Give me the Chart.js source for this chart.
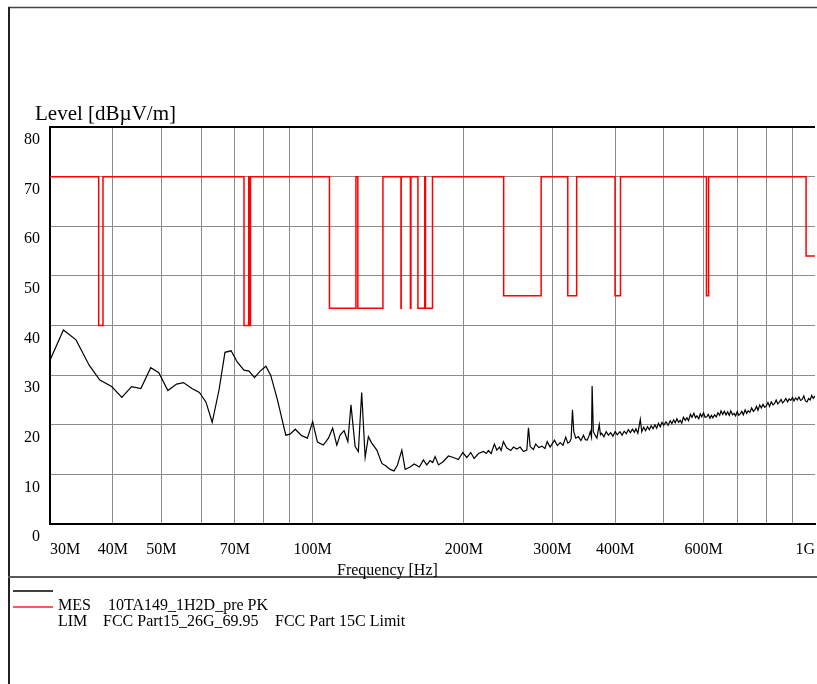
<!DOCTYPE html>
<html>
<head>
<meta charset="utf-8">
<script src="https://cdn.jsdelivr.net/npm/chart.js@4"></script>
<style>
  html, body { margin: 0; padding: 0; background: #fff; }
  canvas { display: block; }
</style>
</head>
<body>
<canvas id="emc" width="817" height="684"></canvas>
<script>
// Frequency axis (MHz) tick positions and their printed labels
const xTickValues = [30, 40, 50, 60, 70, 80, 90, 100, 200, 300, 400, 500, 600, 700, 800, 900, 1000];
const xTickLabels = { 30: '30M', 40: '40M', 50: '50M', 70: '70M', 100: '100M', 200: '200M', 300: '300M', 400: '400M', 600: '600M', 1000: '1G' };
// Level axis ticks (dBµV/m)
const yTickValues = [0, 10, 20, 30, 40, 50, 60, 70, 80];

// Measured peak trace: frequency (MHz) and level (dBµV/m)
const measFreq = [
  30, 31.9, 33.8, 35.9, 37.7, 39.8, 41.7, 43.6, 45.5, 47.6, 49.4, 51.5, 53.6, 55.3, 57.5, 59.5,
  61.3, 63.1, 65.1, 66.9, 68.8, 70.8, 73.0, 74.7, 76.6, 78.6, 80.7, 82.5, 85.1, 88.4, 90.2, 92.3,
  95.1, 97.6, 100.0, 102.2, 105.0, 107.5, 109.6, 111.7, 113.4, 115.5, 117.5, 119.2, 121.5, 123.3,
  125.2, 127.2, 129.1, 131.1, 134.2, 137.3, 140.0, 142.6, 145.2, 147.5, 150.5, 152.8, 156.3, 159.2,
  163.1, 166.1, 168.7, 171.3, 173.4, 175.3, 178.0, 182.1, 186.3, 190.6, 195.0, 199.0, 202.7, 206.4,
  209.6, 213.8, 218.7, 221.5, 223.8, 226.6, 230.0, 232.6, 235.4, 237.2, 239.7, 243.5, 248.0, 251.0,
  254.9, 258.8, 262.8, 266.9, 268.9,
  271, 275, 278, 282, 286, 290, 293, 297, 300, 303, 307, 311, 315, 319, 322, 325, 327, 329, 331, 334,
  338, 342, 346, 349, 352, 355, 357, 359, 360, 362, 365, 368, 372, 374, 376, 380, 384, 388, 392, 396,
  400, 404, 409, 413, 417, 421, 425, 429, 433, 437, 440, 444, 449, 452, 456, 460, 464, 468, 472, 476,
  480, 484, 488, 492, 496, 500, 505, 510, 515, 519, 523, 527, 531, 535, 539, 543, 547, 552, 556, 560,
  565, 569, 574, 578, 582, 587, 591, 595, 600, 604, 609, 613, 618, 622, 626, 631, 636, 641, 646, 650,
  655, 660, 665, 670, 675, 680, 685, 690, 695, 700, 705, 710, 715, 720, 726, 731, 736, 742, 748, 754,
  760, 765, 770, 776, 782, 788, 794, 800, 806, 812, 818, 825, 831, 837, 843, 850, 856, 862, 869, 875,
  882, 888, 895, 902, 908, 915, 922, 929, 936, 943, 950, 957, 964, 971, 978, 985, 992, 1000
];
const measLevel = [
  33.0, 39.1, 37.1, 32.0, 29.0, 27.7, 25.5, 27.7, 27.3, 31.5, 30.5, 26.9, 28.2, 28.5, 27.3, 26.5,
  24.6, 20.5, 27.0, 34.6, 34.9, 32.6, 31.0, 30.8, 29.5, 30.8, 31.8, 30.0, 25.0, 17.9, 18.1, 19.1,
  17.8, 17.3, 20.6, 16.5, 15.9, 17.3, 19.3, 15.9, 17.9, 18.8, 16.6, 24.0, 15.6, 14.6,
  26.5, 13.4, 17.6, 16.3, 14.9, 12.2, 11.7, 11.0, 10.7, 11.9, 14.9, 11.0, 11.5, 12.1,
  11.5, 12.9, 11.9, 12.8, 12.4, 13.6, 11.9, 12.6, 13.7, 13.4, 13.0, 14.4, 13.4, 14.4,
  13.2, 14.2, 14.6, 14.2, 14.8, 14.2, 16.1, 14.9, 15.5, 14.8, 16.6, 15.3, 14.8, 15.5,
  15.1, 15.5, 14.6, 14.9, 19.4,
  15.6, 15.0, 16.1, 15.4, 15.7, 15.2, 16.6, 15.5, 16.2, 16.9, 15.8, 16.4, 15.9, 17.5, 16.3, 16.6, 17.2, 23.0, 18.6, 17.3,
  17.6, 16.8, 17.9, 17.0, 16.9, 17.8, 18.6, 17.5, 27.8, 18.6, 17.9, 17.3, 20.0, 18.0, 18.3, 17.6, 18.6, 17.9, 18.4, 17.7,
  18.6, 18.0, 18.6, 17.9, 18.7, 18.2, 19.0, 18.4, 19.1, 18.5, 19.2, 18.3, 21.1, 18.6, 19.5, 18.8, 19.6, 19.0, 19.8, 19.2,
  20.0, 19.3, 20.3, 19.6, 20.5, 19.9, 20.6, 19.9, 20.8, 20.2, 21.0, 20.4, 21.2, 20.5, 20.9, 20.3, 21.5, 20.9, 21.4, 20.8,
  22.1, 21.5, 22.3, 21.4, 21.8, 21.2, 22.2, 21.6, 22.4, 21.5, 21.6, 22.1, 21.3, 21.9, 21.4, 22.0, 21.6, 22.4, 21.9, 22.8,
  22.1, 22.7, 22.0, 22.6, 21.9, 22.8, 22.0, 22.3, 21.8, 22.6, 21.9, 22.2, 22.7, 22.0, 23.0, 22.3, 22.8, 22.5, 23.4, 22.7,
  23.1, 23.7, 22.9, 24.0, 23.4, 24.1, 23.5, 23.8, 24.5, 23.7, 24.6, 24.0, 24.3, 25.0, 24.2, 24.6, 25.1, 24.4, 24.8, 25.3,
  24.6, 25.2, 24.9, 25.5, 24.8, 25.4, 25.0, 25.6, 24.9, 25.1, 25.8, 24.8, 24.6, 25.3, 25.0, 25.9, 25.3, 25.8
];

// FCC Part 15C limit: band edges (MHz) and the level that holds from each edge on
const limitFreq = [
  30, 37.5, 38.25, 73, 74.6, 74.8, 75.2, 108, 121.94, 123, 138, 149.9, 150.05,
  156.52475, 156.52525, 156.7, 156.9, 162.0125, 167.17, 167.72, 173.2,
  240, 285, 322, 335.4, 399.9, 410, 608, 614, 960, 1000
];
const limitLevel = [
  69.95, 40, 69.95, 40, 69.95, 40, 69.95, 43.5, 69.95, 43.5, 69.95, 43.5, 69.95,
  43.5, 69.95, 43.5, 69.95, 43.5, 69.95, 43.5, 69.95,
  46, 69.95, 46, 69.95, 46, 69.95, 46, 69.95, 54, 54
];

const SERIF = "'Liberation Serif', 'Times New Roman', serif";
const GRID = '#8c8c8c';

// Frame, axis caption and legend block around the plot
const decorations = {
  id: 'decorations',
  afterDraw(chart) {
    const ctx = chart.ctx;
    ctx.save();
    ctx.lineCap = 'butt';

    // outer frame (top and left edges)
    ctx.strokeStyle = '#444';
    ctx.lineWidth = 1.5;
    ctx.beginPath(); ctx.moveTo(8, 7.5); ctx.lineTo(817, 7.5); ctx.stroke();
    ctx.strokeStyle = '#222';
    ctx.lineWidth = 2;
    ctx.beginPath(); ctx.moveTo(9, 7); ctx.lineTo(9, 684); ctx.stroke();

    // separator above the legend
    ctx.strokeStyle = '#5a5a5a';
    ctx.lineWidth = 2;
    ctx.beginPath(); ctx.moveTo(8, 577); ctx.lineTo(817, 577); ctx.stroke();

    ctx.fillStyle = '#000';
    ctx.textBaseline = 'alphabetic';
    ctx.textAlign = 'left';

    // level axis caption
    ctx.font = '21px ' + SERIF;
    ctx.fillText('Level [dBµV/m]', 35, 119.5);

    // frequency axis caption
    ctx.font = '16px ' + SERIF;
    ctx.fillText('Frequency [Hz]', 337, 575);

    // legend swatches
    ctx.strokeStyle = '#000';
    ctx.lineWidth = 1.5;
    ctx.beginPath(); ctx.moveTo(13, 591); ctx.lineTo(53, 591); ctx.stroke();
    ctx.strokeStyle = '#ff2020';
    ctx.lineWidth = 1.5;
    ctx.beginPath(); ctx.moveTo(13, 607); ctx.lineTo(53, 607); ctx.stroke();

    // legend text
    ctx.fillStyle = '#000';
    ctx.font = '16px ' + SERIF;
    ctx.fillText('MES', 58, 609.5);
    ctx.fillText('10TA149_1H2D_pre PK', 108, 609.5);
    ctx.fillText('LIM', 58, 625.5);
    ctx.fillText('FCC Part15_26G_69.95', 103, 625.5);
    ctx.fillText('FCC Part 15C Limit', 275, 625.5);

    ctx.restore();
  }
};

new Chart(document.getElementById('emc'), {
  type: 'line',
  data: {
    datasets: [
      {
        label: 'MES',
        data: measFreq.map((f, i) => ({ x: f, y: measLevel[i] })),
        borderColor: '#000',
        borderWidth: 1.2,
        pointRadius: 0,
        tension: 0,
        fill: false
      },
      {
        label: 'LIM',
        data: limitFreq.map((f, i) => ({ x: f, y: limitLevel[i] })),
        borderColor: '#ff0000',
        borderWidth: 1.5,
        pointRadius: 0,
        stepped: 'before',
        fill: false
      }
    ]
  },
  options: {
    responsive: false,
    animation: false,
    devicePixelRatio: 1,
    layout: { padding: { top: 127, right: 2, bottom: 0, left: 0 } },
    plugins: {
      legend: { display: false },
      title: { display: false },
      tooltip: { enabled: false }
    },
    scales: {
      x: {
        type: 'logarithmic',
        min: 30,
        max: 1000,
        afterBuildTicks: (scale) => { scale.ticks = xTickValues.map(v => ({ value: v })); },
        afterFit: (scale) => {
          scale.height = 160;
          scale.paddingLeft = 0;
          scale.paddingRight = 0;
        },
        ticks: {
          autoSkip: false,
          maxRotation: 0,
          minRotation: 0,
          align: 'inner',
          padding: 16,
          color: '#000',
          font: { family: SERIF, size: 16 },
          callback: (v) => xTickLabels[v] || ''
        },
        grid: {
          drawTicks: false,
          lineWidth: 1,
          color: (c) => (c.tick && c.tick.value === 1000) ? 'rgba(0,0,0,0)' : GRID
        },
        border: { color: '#000', width: 2 }
      },
      y: {
        min: 0,
        max: 80,
        afterBuildTicks: (scale) => { scale.ticks = yTickValues.map(v => ({ value: v })); },
        afterFit: (scale) => {
          scale.width = 50;
          scale.paddingTop = 0;
          scale.paddingBottom = 0;
        },
        ticks: {
          padding: 10,
          labelOffset: 13,
          color: '#000',
          font: { family: SERIF, size: 16 }
        },
        grid: {
          drawTicks: false,
          color: (c) => (c.tick && c.tick.value === 80) ? '#000' : GRID,
          lineWidth: (c) => (c.tick && c.tick.value === 80) ? 2 : 1
        },
        border: { color: '#000', width: 2 }
      }
    }
  },
  plugins: [decorations]
});
</script>
</body>
</html>
